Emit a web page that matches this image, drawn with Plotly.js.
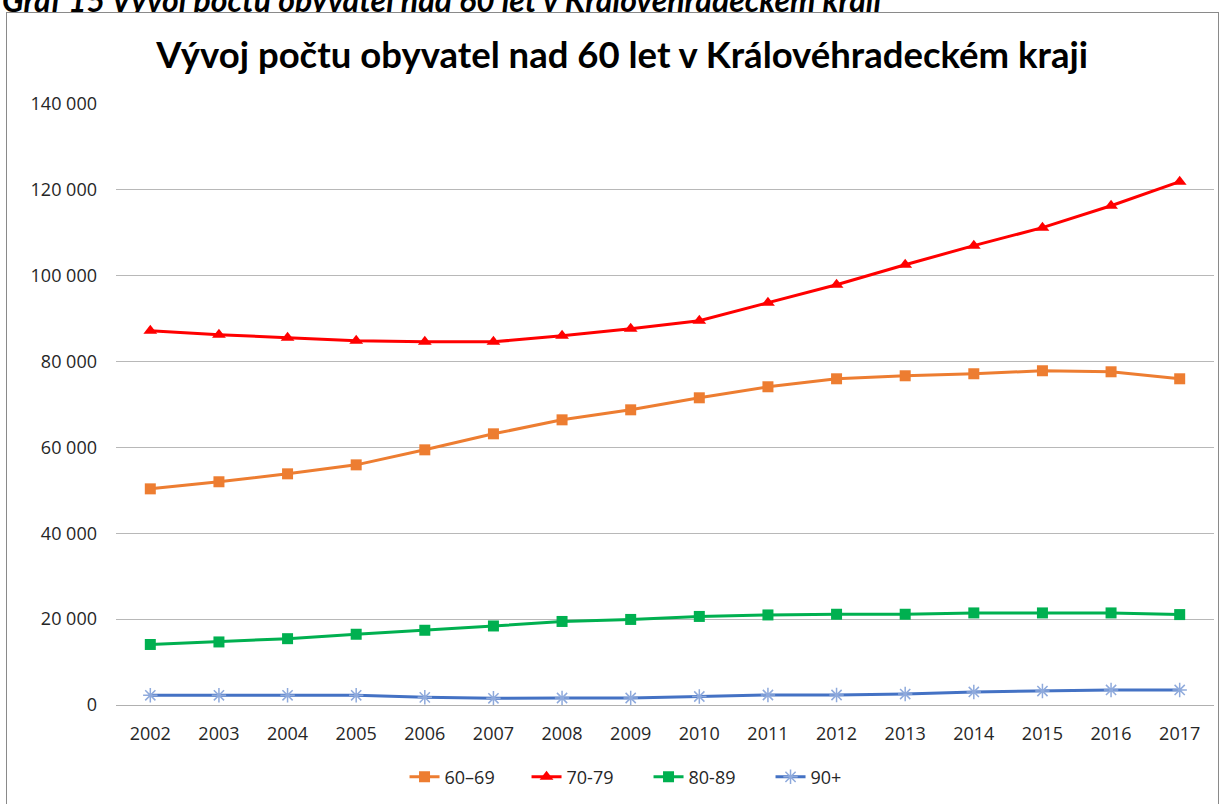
<!DOCTYPE html>
<html><head><meta charset="utf-8">
<script src="https://cdn.plot.ly/plotly-3.0.1.min.js"></script>
<style>
html,body{margin:0;padding:0;background:#fff;overflow:hidden;width:1221px;height:804px;}
#cap{position:absolute;left:2px;top:-20px;line-height:31px;font:italic bold 32px Lato, "DejaVu Sans", sans-serif;color:#000;white-space:nowrap;}
#chart{position:absolute;left:6px;top:12px;width:1213px;height:800px;border:1px solid #8a8a8a;box-sizing:border-box;}
</style></head>
<body>
<div id="cap">Graf 15 Vývoj počtu obyvatel nad 60 let v Královéhradeckém kraji</div>
<div id="chart"></div>
<script>
const years = ['2002','2003','2004','2005','2006','2007','2008','2009','2010','2011','2012','2013','2014','2015','2016','2017'];
const age6069 = [50350,52000,53850,55940,59440,63170,66430,68760,71560,74130,75990,76690,77160,77860,77620,75990];
const age7079 = [87180,86250,85550,84850,84600,84600,86000,87650,89500,93700,97900,102560,107000,111200,116300,121900];
const age8089 = [14100,14690,15450,16480,17410,18410,19460,19930,20630,20980,21140,21140,21450,21450,21450,21060];
const age90 = [2260,2260,2260,2260,1790,1560,1630,1630,1980,2330,2330,2560,3030,3260,3500,3500];
const names = ['60–69','70-79','80-89','90+'];
const yTicks = [0,20000,40000,60000,80000,100000,120000,140000];

const traces = [
  {x:years,y:age6069,name:names[0],type:'scatter',mode:'lines+markers',
   line:{color:'#ED7D31',width:3},marker:{symbol:'square',size:11,color:'#ED7D31'}},
  {x:years,y:age7079,name:names[1],type:'scatter',mode:'lines+markers',
   line:{color:'#FF0000',width:3},marker:{symbol:'triangle-up',size:12,color:'#FF0000'}},
  {x:years,y:age8089,name:names[2],type:'scatter',mode:'lines+markers',
   line:{color:'#00B050',width:3},marker:{symbol:'square',size:11,color:'#00B050'}},
  {x:years,y:age90,name:names[3],type:'scatter',mode:'lines+markers',
   line:{color:'#4472C4',width:3},marker:{symbol:'asterisk-open',size:12,color:'#8FAADC',line:{color:'#8FAADC',width:1.5}}}
];
const tickFont = {family:'"Open Sans", Lato, sans-serif',size:18,color:'#262626'};
const layout = {
  width:1211, height:790,
  margin:{l:109,r:4,t:91,b:98},
  paper_bgcolor:'#fff', plot_bgcolor:'#fff',
  separators:'. ',
  font:tickFont,
  title:{text:'Vývoj počtu obyvatel nad 60 let v Královéhradeckém kraji',
    font:{family:'Lato, "Open Sans", sans-serif',size:36.5,color:'#000',weight:'bold'},
    xref:'container',x:0.508,xanchor:'center',y:0.947,yanchor:'middle'},
  xaxis:{type:'category',range:[-0.5,15.5],showgrid:false,showline:true,linecolor:'#b0b0b0',linewidth:1,
    ticks:'',ticklabelstandoff:12,tickfont:tickFont,fixedrange:true},
  yaxis:{range:[0,140000],tickvals:yTicks,tickformat:',d',showgrid:true,gridcolor:'#b8b8b8',gridwidth:1,
    zeroline:false,showline:false,ticks:'',ticklabelstandoff:18,tickfont:tickFont,fixedrange:true},
  showlegend:true,
  legend:{orientation:'h',x:0.485,xanchor:'center',y:-0.12,yanchor:'middle',font:tickFont,
    entrywidth:77,entrywidthmode:'pixels',itemwidth:30,traceorder:'normal'}
};
Plotly.newPlot('chart',traces,layout,{displayModeBar:false,staticPlot:true});
</script>
</body></html>
